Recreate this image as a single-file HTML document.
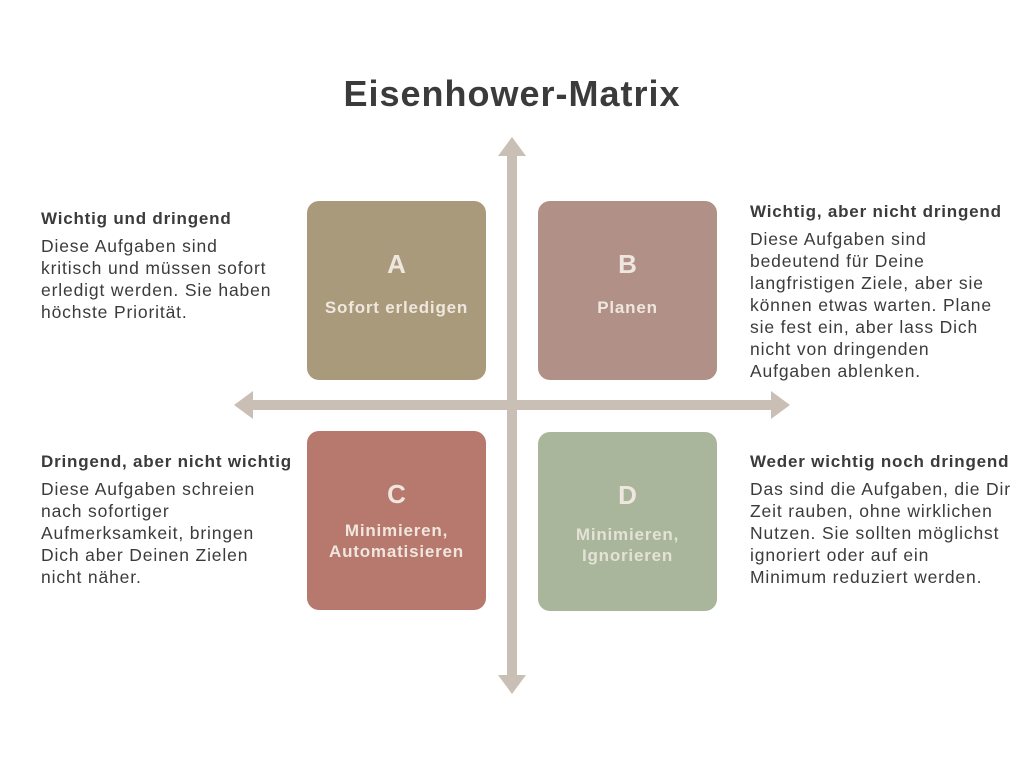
<!DOCTYPE html>
<html><head><meta charset="utf-8"><style>
body{margin:0;width:1024px;height:768px;background:#fff;position:relative;overflow:hidden;font-family:"Liberation Sans",sans-serif;color:#3b3b3b}
.t{position:absolute;left:0;width:1024px;top:73px;text-align:center;font-size:36px;font-weight:bold;letter-spacing:1px}
.box{position:absolute;width:179px;height:179px;border-radius:12px;color:#efe7de;text-align:center;font-weight:bold}
.box .l{position:absolute;top:48px;width:100%;font-size:26px}
.box .s{position:absolute;top:96px;width:100%;font-size:17px;line-height:21px;letter-spacing:0.8px}
.d{position:absolute;font-size:17.5px;line-height:22px;letter-spacing:0.85px}
.d b{display:block;margin-bottom:5px;font-size:17px;letter-spacing:0.8px}
</style></head><body>
<div class="t">Eisenhower-Matrix</div>
<svg width="1024" height="768" style="position:absolute;left:0;top:0">
<g fill="#c9bfb5">
<rect x="507" y="152" width="10" height="530"/>
<polygon points="512,137 526,156 498,156"/>
<polygon points="512,694 526,675 498,675"/>
<rect x="248" y="400" width="528" height="10"/>
<polygon points="234,405 253,391 253,419"/>
<polygon points="790,405 771,391 771,419"/>
</g></svg>
<div class="box" style="left:307px;top:201px;background:#a99a7c"><div class="l">A</div><div class="s">Sofort erledigen</div></div>
<div class="box" style="left:538px;top:201px;background:#b09087"><div class="l">B</div><div class="s">Planen</div></div>
<div class="box" style="left:307px;top:431px;background:#b7786d"><div class="l">C</div><div class="s" style="top:89px">Minimieren,<br>Automatisieren</div></div>
<div class="box" style="left:538px;top:432px;background:#a9b69b"><div class="l">D</div><div class="s" style="top:92px;color:#e4e2d6">Minimieren,<br>Ignorieren</div></div>
<div class="d" style="left:41px;top:208px"><b>Wichtig und dringend</b>Diese Aufgaben sind<br>kritisch und müssen sofort<br>erledigt werden. Sie haben<br>höchste Priorität.</div>
<div class="d" style="left:750px;top:201px"><b>Wichtig, aber nicht dringend</b>Diese Aufgaben sind<br>bedeutend für Deine<br>langfristigen Ziele, aber sie<br>können etwas warten. Plane<br>sie fest ein, aber lass Dich<br>nicht von dringenden<br>Aufgaben ablenken.</div>
<div class="d" style="left:41px;top:451px"><b>Dringend, aber nicht wichtig</b>Diese Aufgaben schreien<br>nach sofortiger<br>Aufmerksamkeit, bringen<br>Dich aber Deinen Zielen<br>nicht näher.</div>
<div class="d" style="left:750px;top:451px"><b>Weder wichtig noch dringend</b>Das sind die Aufgaben, die Dir<br>Zeit rauben, ohne wirklichen<br>Nutzen. Sie sollten möglichst<br>ignoriert oder auf ein<br>Minimum reduziert werden.</div>
</body></html>
